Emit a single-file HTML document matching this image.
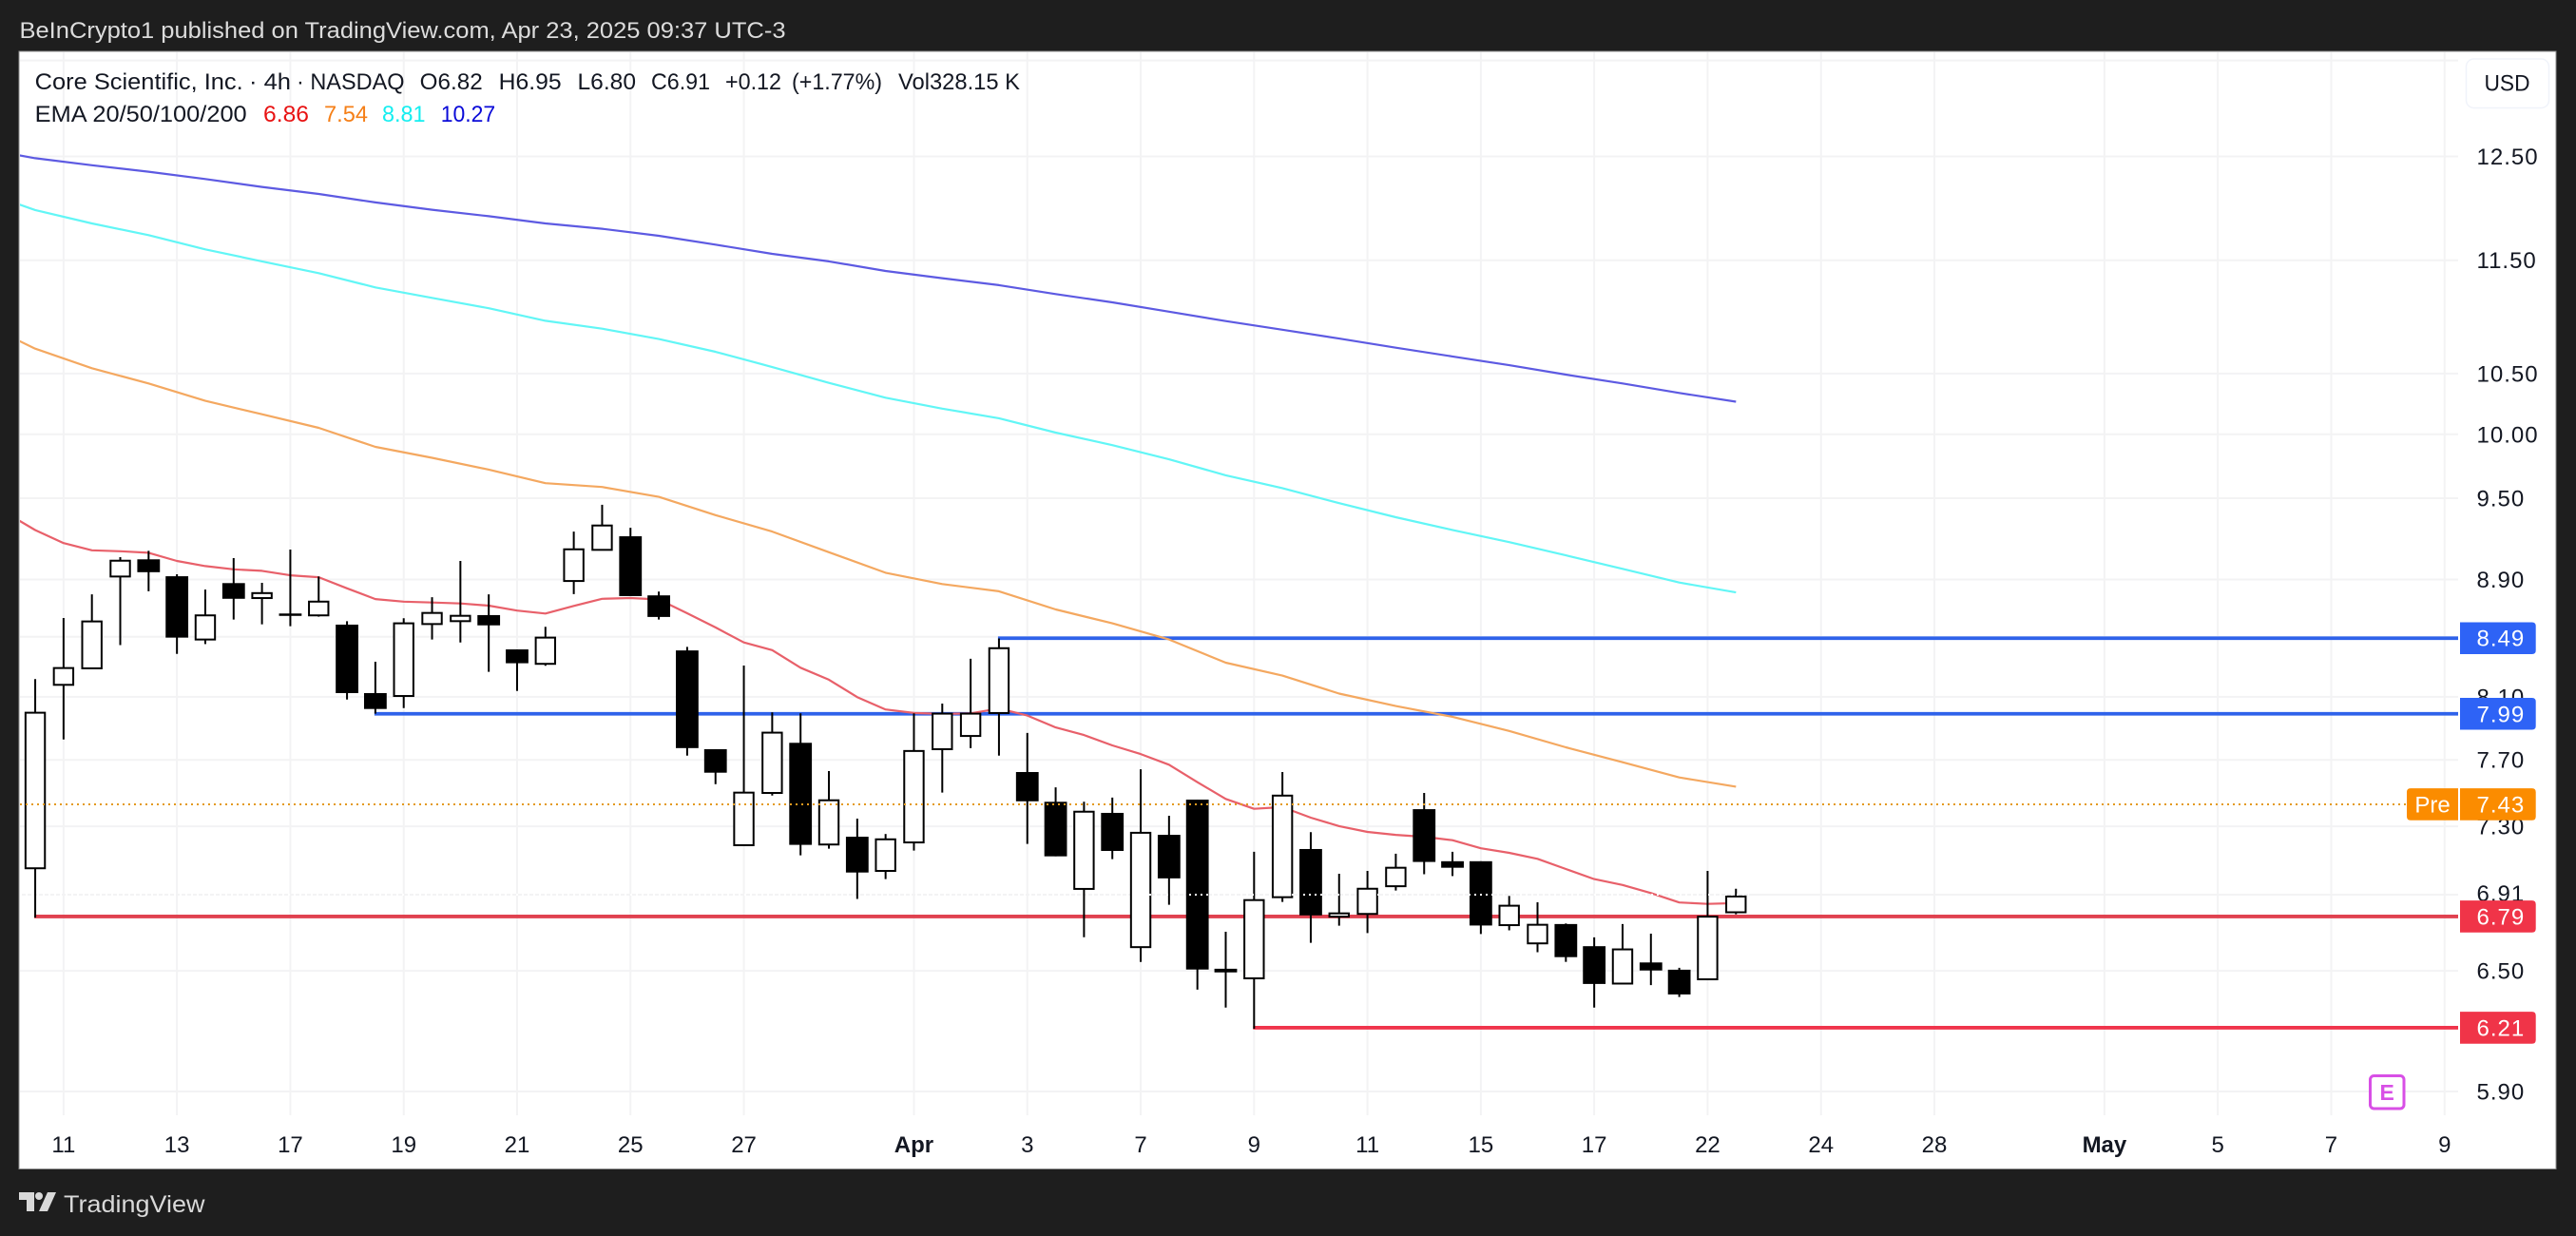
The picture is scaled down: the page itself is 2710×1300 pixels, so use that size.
<!DOCTYPE html>
<html lang="en">
<head>
<meta charset="utf-8">
<title>Core Scientific, Inc. 4h chart</title>
<style>
html,body{margin:0;padding:0;background:#1e1e1e;width:2710px;height:1300px;overflow:hidden}
svg{display:block}
text{font-family:"Liberation Sans",Arial,sans-serif}
</style>
</head>
<body>
<svg id="chart" width="2710" height="1300" viewBox="0 0 2710 1300" xmlns="http://www.w3.org/2000/svg">
  <defs><clipPath id="plot-clip"><rect x="21" y="55" width="2565" height="1118"/></clipPath></defs>
  <rect x="0" y="0" width="2710" height="1300" fill="#1e1e1e"/>
  <text x="20.5" y="40" font-size="24" fill="#dcdcdc" textLength="806" lengthAdjust="spacingAndGlyphs">BeInCrypto1 published on TradingView.com, Apr 23, 2025 09:37 UTC-3</text>
  <rect x="20" y="54" width="2669" height="1175.5" fill="#ffffff" stroke="#8c8c8c" stroke-width="1"/>
  <g id="grid"></g>
  <g id="levels" clip-path="url(#plot-clip)"></g>
  <g id="emas" clip-path="url(#plot-clip)"></g>
  <g id="candles"></g>
  <g id="dots"></g>

  <g font-size="24" fill="#131722">
    <text x="36.7" y="94" textLength="219" lengthAdjust="spacingAndGlyphs">Core Scientific, Inc.</text>
    <text x="262" y="94" textLength="44" lengthAdjust="spacingAndGlyphs">· 4h</text>
    <text x="312" y="94" textLength="113.5" lengthAdjust="spacingAndGlyphs">· NASDAQ</text>
    <text x="441.7" y="94" textLength="66" lengthAdjust="spacingAndGlyphs">O6.82</text>
    <text x="524.6" y="94" textLength="66" lengthAdjust="spacingAndGlyphs">H6.95</text>
    <text x="607.5" y="94" textLength="61.5" lengthAdjust="spacingAndGlyphs">L6.80</text>
    <text x="685" y="94" textLength="62" lengthAdjust="spacingAndGlyphs">C6.91</text>
    <text x="763" y="94" textLength="59" lengthAdjust="spacingAndGlyphs">+0.12</text>
    <text x="833" y="94" textLength="95" lengthAdjust="spacingAndGlyphs">(+1.77%)</text>
    <text x="945" y="94" textLength="128" lengthAdjust="spacingAndGlyphs">Vol328.15 K</text>
    <text x="36.7" y="128" textLength="223" lengthAdjust="spacingAndGlyphs">EMA 20/50/100/200</text>
    <text x="277" y="128" fill="#e81212" textLength="48" lengthAdjust="spacingAndGlyphs">6.86</text>
    <text x="341" y="128" fill="#f57f17" textLength="46" lengthAdjust="spacingAndGlyphs">7.54</text>
    <text x="402" y="128" fill="#14eef0" textLength="45.5" lengthAdjust="spacingAndGlyphs">8.81</text>
    <text x="463.7" y="128" fill="#0a0ad8" textLength="57.5" lengthAdjust="spacingAndGlyphs">10.27</text>
  </g>

  <g id="price-axis"></g>
  <g id="time-axis"></g>
  <g id="badges"></g>

  <g>
    <rect x="2594.5" y="62" width="87" height="51.5" rx="8" fill="#ffffff" stroke="#f0f3fa" stroke-width="1.5"/>
    <text x="2637.5" y="95.5" font-size="24" fill="#131722" text-anchor="middle" textLength="48" lengthAdjust="spacingAndGlyphs">USD</text>
  </g>

  <g>
    <rect x="2493.5" y="1131.5" width="35.5" height="34.5" rx="4" fill="#ffffff" stroke="#d84fe6" stroke-width="3"/>
    <text x="2511.2" y="1157" font-size="23" font-weight="bold" fill="#d84fe6" text-anchor="middle">E</text>
  </g>

  <g>
    <path d="M20 1254h16v20h-8v-12h-8z" fill="#d9d9d9"/>
    <circle cx="41" cy="1258" r="4" fill="#d9d9d9"/>
    <path d="M59 1254l-9 20h-9l9-20z" fill="#d9d9d9"/>
    <text x="67" y="1275" font-size="25" fill="#d9d9d9" textLength="148.5" lengthAdjust="spacingAndGlyphs">TradingView</text>
  </g>
</svg>

<script>
// ---- chart data (prices in USD) ----
const candleOpen = [7.058,8.178,8.287,8.921,9.045,8.923,8.481,8.874,8.768,8.660,8.647,8.583,8.124,8.105,8.587,8.607,8.649,8.414,8.317,8.889,9.114,9.214,8.787,8.407,7.766,7.190,7.498,7.806,7.194,7.239,7.043,7.206,7.766,7.849,7.995,7.625,7.445,6.942,7.379,6.625,7.250,7.458,6.511,6.461,6.896,7.168,6.789,6.804,6.957,7.401,7.098,7.098,6.743,6.645,6.749,6.630,6.434,6.544,6.506,6.456,6.813];
const candleHigh = [8.216,8.629,8.794,9.061,9.107,8.937,8.828,9.054,8.876,9.116,8.921,8.607,8.331,8.627,8.774,9.033,8.794,8.414,8.568,9.249,9.450,9.277,8.814,8.431,7.766,8.306,7.999,7.993,7.631,7.345,7.255,7.993,8.056,8.351,8.488,7.868,7.532,7.445,7.470,7.642,7.362,7.458,6.707,7.152,7.625,7.266,7.027,7.043,7.141,7.498,7.152,7.098,6.903,6.868,6.752,6.677,6.749,6.697,6.516,7.043,6.943];
const candleLow = [6.784,7.827,8.287,8.443,8.816,8.384,8.450,8.618,8.585,8.572,8.638,8.082,7.991,8.027,8.481,8.461,8.264,8.138,8.304,8.796,9.114,8.782,8.618,7.726,7.551,7.190,7.482,7.132,7.170,6.886,6.997,7.159,7.500,7.773,7.726,7.197,7.126,6.678,7.110,6.547,6.854,6.403,6.311,6.205,6.870,6.648,6.740,6.700,6.933,7.024,7.014,6.695,6.715,6.598,6.547,6.311,6.434,6.426,6.365,6.456,6.802];
const candleClose = [7.997,8.289,8.605,9.035,8.952,8.494,8.647,8.763,8.803,8.651,8.743,8.124,8.021,8.592,8.664,8.644,8.578,8.321,8.494,9.118,9.294,8.782,8.636,7.773,7.621,7.500,7.870,7.192,7.454,7.034,7.224,7.755,7.991,7.991,8.422,7.448,7.126,7.386,7.157,7.262,7.001,6.507,6.492,6.880,7.482,6.796,6.807,6.943,7.061,7.094,7.061,6.741,6.849,6.745,6.572,6.432,6.613,6.502,6.378,6.789,6.900];

// EMA 20: one value per bar, bar -1 through bar 60
const ema20Values = [9.385,9.260,9.164,9.111,9.104,9.093,9.033,8.996,8.973,8.962,8.930,8.916,8.837,8.761,8.743,8.737,8.730,8.715,8.680,8.660,8.713,8.763,8.768,8.758,8.662,8.564,8.461,8.409,8.291,8.212,8.098,8.018,7.995,7.989,7.993,8.024,7.979,7.903,7.855,7.790,7.736,7.670,7.563,7.462,7.403,7.413,7.351,7.301,7.267,7.250,7.239,7.219,7.172,7.146,7.112,7.054,6.997,6.964,6.919,6.867,6.859,6.863];
// EMA 50/100/200: one value every second bar, bar -2 through bar 60
const ema50Values = [10.951,10.712,10.545,10.417,10.272,10.162,10.052,9.900,9.813,9.721,9.615,9.586,9.510,9.372,9.249,9.097,8.948,8.867,8.816,8.688,8.592,8.481,8.325,8.239,8.121,8.040,7.971,7.881,7.778,7.685,7.592,7.536];
const ema100Values = [12.166,11.973,11.845,11.734,11.601,11.490,11.381,11.252,11.158,11.065,10.954,10.885,10.795,10.685,10.555,10.422,10.298,10.208,10.130,10.014,9.913,9.801,9.676,9.577,9.462,9.356,9.261,9.171,9.074,8.976,8.878,8.808];
const ema200Values = [12.584,12.482,12.411,12.347,12.275,12.197,12.129,12.046,11.976,11.914,11.845,11.794,11.728,11.645,11.559,11.490,11.401,11.335,11.272,11.192,11.118,11.035,10.952,10.876,10.799,10.720,10.645,10.571,10.491,10.417,10.338,10.265];

// axis ticks
const priceTickValues = [13.50,12.50,11.50,10.50,10.00,9.50,8.90,8.50,8.10,7.70,7.30,6.91,6.50,5.90];
const priceTickLabels = ["","12.50","11.50","10.50","10.00","9.50","8.90","","8.10","7.70","7.30","6.91","6.50","5.90"];
const timeTickBars = [1,5,9,13,17,21,25,31,35,39,43,47,51,55,59,63,67,73,77,81,85];
const timeTickLabels = ["11","13","17","19","21","25","27","Apr","3","7","9","11","15","17","22","24","28","May","5","7","9"];

// drawn support / resistance levels
const supportResistancePrices = [8.49,7.99,6.79,6.21];
const levelStartBars = [34,12,0,43];
const prePrice = 7.43;
const lastPrice = 6.91;

// ---- axis functions ----
const SVGNS = "http://www.w3.org/2000/svg";
function xOfBar(i){ return 37.05 + 29.82 * i; }
function yOfPrice(p){ return 1148 - 1310 * Math.log(p / 5.9); }
function make(tag, parent){ const el = document.createElementNS(SVGNS, tag); parent.appendChild(el); return el; }
function set(el, attrs){ for (const k in attrs) el.setAttribute(k, attrs[k]); return el; }

const PLOT_LEFT = 21, PLOT_RIGHT = 2586, PLOT_BOTTOM = 1173;

// grid
const gridG = document.getElementById("grid");
priceTickValues.forEach(function(p){
  const el = make("line", gridG);
  
  
  set(el, {x1:PLOT_LEFT, x2:PLOT_RIGHT, y1:yOfPrice(p), y2:yOfPrice(p), stroke:"#f3f3f4", "stroke-width":2});
});
timeTickBars.forEach(function(b){
  const el = make("line", gridG);
  
  
  set(el, {x1:xOfBar(b), x2:xOfBar(b), y1:55, y2:PLOT_BOTTOM, stroke:"#f3f3f4", "stroke-width":2});
});

// levels
const levelsG = document.getElementById("levels");
supportResistancePrices.forEach(function(p, n){
  const el = make("line", levelsG);
  
  
  const colour = p > prePrice ? "#2f62ea" : (n === 2 ? "#e0414f" : "#f0344c");
  set(el, {x1:xOfBar(levelStartBars[n]) - 1, x2:PLOT_RIGHT, y1:yOfPrice(p), y2:yOfPrice(p), stroke:colour, "stroke-width":3.8});
});

// EMA lines
const emasG = document.getElementById("emas");
function drawEma(values, firstBar, step, colour, name){
  const pts = values.map(function(v, i){ return xOfBar(firstBar + i * step).toFixed(1) + "," + yOfPrice(v).toFixed(1); }).join(" ");
  const el = make("polyline", emasG);
  
  
  set(el, {points:pts, fill:"none", stroke:colour, "stroke-width":2.2, "stroke-linejoin":"round"});
}
drawEma(ema200Values, -2, 2, "#5d5ae2", "ema-200-line");
drawEma(ema100Values, -2, 2, "#62f6f6", "ema-100-line");
drawEma(ema50Values, -2, 2, "#f4a860", "ema-50-line");
drawEma(ema20Values, -1, 1, "#e8606a", "ema-20-line");

// candles
const candlesG = document.getElementById("candles");
candleOpen.forEach(function(o, i){
  const c = candleClose[i];
  const cx = xOfBar(i);
  const up = c >= o;
  const topY = yOfPrice(Math.max(o, c));
  const botY = yOfPrice(Math.min(o, c));
  const g = make("g", candlesG);
  
  
  const wick = make("line", g);
  
  
  set(wick, {x1:cx, x2:cx, y1:yOfPrice(candleHigh[i]), y2:yOfPrice(candleLow[i]), stroke:"#000", "stroke-width":2});
  const body = make("rect", g);
  
  
  if (up) {
    set(body, {x:cx - 10.2, y:topY, width:20.4, height:Math.max(botY - topY, 2), fill:"#fff", stroke:"#000", "stroke-width":2});
  } else {
    set(body, {x:cx - 11.9, y:topY, width:23.8, height:Math.max(botY - topY, 2.5), fill:"#000"});
  }
});

// dotted lines on top of the candles
const dotsG = document.getElementById("dots");
const lastLine = make("line", dotsG);


set(lastLine, {x1:PLOT_LEFT, x2:1840, y1:yOfPrice(lastPrice), y2:yOfPrice(lastPrice), stroke:"#ffffff", "stroke-width":2, "stroke-dasharray":"2 4"});
const preLine = make("line", dotsG);


set(preLine, {x1:PLOT_LEFT, x2:2532, y1:yOfPrice(prePrice), y2:yOfPrice(prePrice), stroke:"#e39a1e", "stroke-width":2, "stroke-dasharray":"2 4"});

// price axis labels
const priceG = document.getElementById("price-axis");
priceTickLabels.forEach(function(label, n){
  if (!label) return;
  const el = make("text", priceG);
  
  
  const nudge = priceTickValues[n] === lastPrice ? 7 : 8.5;
  set(el, {x:2605.5, y:yOfPrice(priceTickValues[n]) + nudge, "font-size":24, fill:"#131722", "letter-spacing":1});
  el.textContent = label;
});

// time axis labels
const timeG = document.getElementById("time-axis");
timeTickLabels.forEach(function(label, n){
  const el = make("text", timeG);
  
  
  const bold = isNaN(Number(label));
  set(el, {x:xOfBar(timeTickBars[n]), y:1212, "font-size":24, fill:"#131722", "text-anchor":"middle", "font-weight":bold ? "bold" : "normal"});
  el.textContent = label;
});

// price badges
const badgesG = document.getElementById("badges");
function badgePath(x, y, w, h, rl, rr){
  return "M" + (x + rl) + " " + y + "H" + (x + w - rr) + "Q" + (x + w) + " " + y + " " + (x + w) + " " + (y + rr) +
    "V" + (y + h - rr) + "Q" + (x + w) + " " + (y + h) + " " + (x + w - rr) + " " + (y + h) +
    "H" + (x + rl) + "Q" + x + " " + (y + h) + " " + x + " " + (y + h - rl) +
    "V" + (y + rl) + "Q" + x + " " + y + " " + (x + rl) + " " + y + "Z";
}
function drawBadge(price, colour){
  const cy = yOfPrice(price);
  const shape = make("path", badgesG);
  
  
  set(shape, {d:badgePath(2588, cy - 16.8, 79.7, 33.6, 0, 4), fill:colour});
  const txt = make("text", badgesG);
  
  
  set(txt, {x:2605.5, y:cy + 8.5, "font-size":24, fill:"#ffffff", "letter-spacing":1});
  txt.textContent = price.toFixed(2);
}
drawBadge(prePrice, "#fb8c00");
supportResistancePrices.forEach(function(p){
  drawBadge(p, p > prePrice ? "#2e63f6" : "#f03448");
});
const preBox = make("path", badgesG);


set(preBox, {d:badgePath(2532, yOfPrice(prePrice) - 16.8, 54, 33.6, 4, 0), fill:"#fb8c00"});
const preText = make("text", badgesG);


set(preText, {x:2559, y:yOfPrice(prePrice) + 8.5, "font-size":24, fill:"#ffffff", "text-anchor":"middle"});
preText.textContent = "Pre";
</script>
</body>
</html>
